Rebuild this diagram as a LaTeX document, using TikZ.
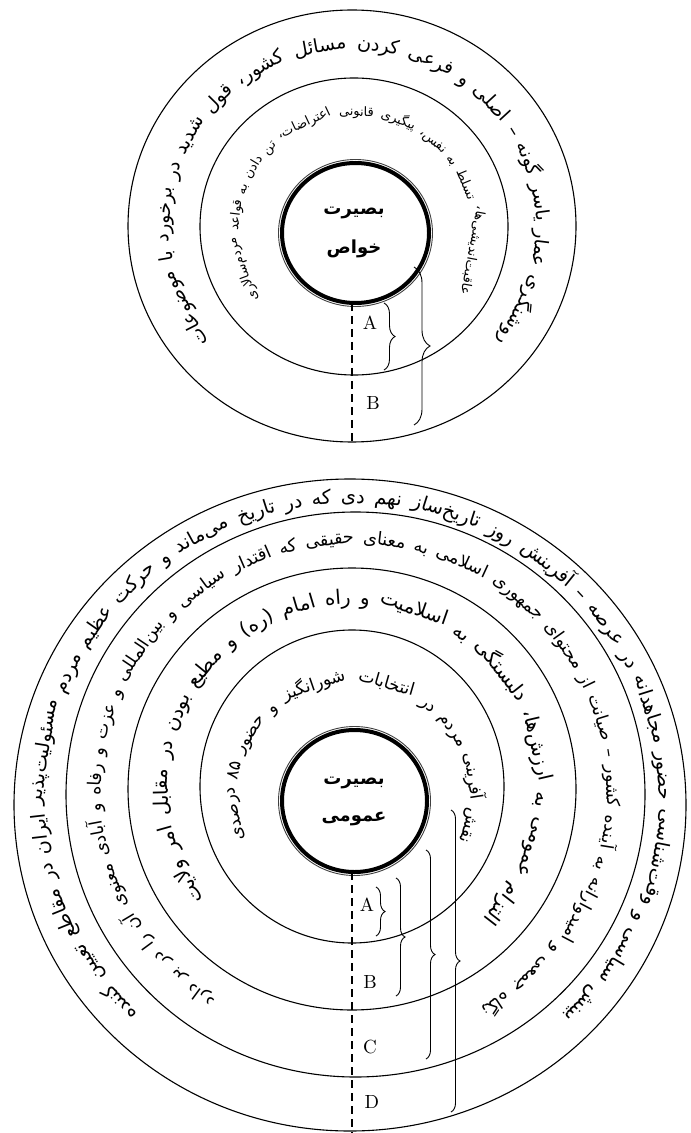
\documentclass[tikz,border=0pt]{standalone}
\usepackage{fontspec}
\usetikzlibrary{decorations.pathreplacing}
\TeXXeTstate=1
\newfontfamily\fa[Script=Arabic]{DejaVu Sans}
\newsavebox\rtbox
\newdimen\rtsw
\newcounter{rtword}
\makeatletter
\newcommand\rt@measure[1]{% font in \rt@font, word #1 -> \rt@w (pt number)
  \pgfinterruptpicture
    \rt@font\global\setbox\rtbox\hbox{\beginR#1\endR}\global\rtsw=1.4\fontdimen2\font
  \endpgfinterruptpicture
  \dimen@=\wd\rtbox \edef\rt@w{\strip@pt\dimen@}%
}
% #1 name prefix, #2 cx, #3 cy, #4 rx, #5 ry, #6 start angle, #7 end angle, #8 font, #9 words
\newcommand\ringtext[9]{%
  \gdef\rt@font{#8}%
  \gdef\rt@tot{0}\gdef\rt@n{0}%
  \foreach \w in {#9}{%
    \rt@measure{\w}%
    \pgfmathsetmacro\rt@a{\rt@tot+\rt@w}\global\let\rt@tot\rt@a
    \pgfmathtruncatemacro\rt@b{\rt@n+1}\global\let\rt@n\rt@b
  }%
  \dimen@=\rtsw \edef\rt@sw{\strip@pt\dimen@}%
  \pgfmathsetmacro\rt@r{0.25*(#4+#5)}%
  \pgfmathsetmacro\rt@L{\rt@r*((#7-(#6))/180*pi)}%
  \pgfmathsetmacro\rt@k{\rt@L/(\rt@tot+(\rt@n-1)*\rt@sw)}%
  \global\let\rt@K\rt@k \global\let\rt@SW\rt@sw
  \gdef\rt@s{0}%
  \foreach \w in {#9}{%
    \rt@measure{\w}%
    \pgfmathsetmacro\rt@th{#6+((\rt@s+0.5*\rt@K*\rt@w)/\rt@r)*57.29578}%
    \pgfmathsetmacro\rt@rot{\rt@th-90}%
    \pgfmathsetmacro\rt@x{#2+#4*cos(\rt@th)}%
    \pgfmathsetmacro\rt@y{#3+#5*sin(\rt@th)}%
    \stepcounter{rtword}%
    \node[inner sep=0pt, anchor=base, rotate=\rt@rot, scale=\rt@K, name=#1\arabic{rtword}] at (\rt@x,\rt@y) {#8\beginR\w\endR};
    \pgfmathsetmacro\rt@c{\rt@s+\rt@K*(\rt@w+\rt@SW)}\global\let\rt@s\rt@c
  }%
}
\makeatother
\tikzset{
  ring/.style={draw=black, line width=0.55pt},
  core/.style={draw=black, line width=2pt},
  coreedge/.style={draw=black!75, line width=0.45pt},
  axisline/.style={draw=black, line width=0.65pt, dash pattern=on 4pt off 2.5pt},
  bracebox/.style={draw=black, line width=0.45pt, decorate, decoration={brace, amplitude=#1}},
  lbl/.style={font=\fontsize{9.5}{10}\selectfont, inner sep=0pt},
  coretext/.style={font=\fa\bfseries\fontsize{9}{13}\selectfont, inner sep=0pt},
}
\begin{document}
\begin{tikzpicture}[x=0.5pt,y=0.5pt]
\useasboundingbox (0,0) rectangle (690,-1133);
\fill[white] (0,0) rectangle (690,-1133);

% ================= TOP DIAGRAM =================
\draw[ring] (352,-226) ellipse [x radius=224, y radius=216];
\draw[ring] (354,-226.5) ellipse [x radius=154, y radius=148.5];
\draw[coreedge] (355.5,-233) ellipse [x radius=77, y radius=73.5];
\draw[core] (355.5,-233) ellipse [x radius=73.5, y radius=70];
\node[coretext] (tcore1) at (354,-213) {\beginR بصیرت\endR};
\node[coretext] (tcore2) at (354,-249) {\beginR خواص\endR};

\ringtext{to}{353}{-226}{183}{176}{-40}{220}{\fa\fontsize{9}{10}\selectfont}%
{روشنگری,عمار,یاسر,گونه,–,اصلی,و,فرعی,کردن,مسائل,کشور،,قول,شدید,در,برخورد,با,موضوعات}

\ringtext{ti}{355}{-229}{116}{113}{-33}{217}{\fa\fontsize{6.3}{7}\selectfont}%
{عاقبت‌اندیشی‌ها،,تسلط,به,نفس،,پیگیری,قانونی,اعتراضات،,تن,دادن,به,قواعد,مردم‌سالاری}

\coordinate (tax1) at (352,-303);
\coordinate (tax2) at (352,-442);
\draw[axisline] (tax1) -- (tax2);

\coordinate (tA1) at (384,-303);
\coordinate (tA2) at (384,-370);
\draw[bracebox=5.5pt] (tA1) -- (tA2);
\coordinate (tB1) at (414,-267);
\coordinate (tB2) at (414,-425);
\draw[bracebox=8pt] (tB1) -- (tB2);
\node[lbl] (tAl) at (370,-323) {A};
\node[lbl] (tBl) at (373,-403) {B};

% ================= BOTTOM DIAGRAM =================
\draw[ring] (350,-805) ellipse [x radius=336, y radius=326];
\draw[ring] (355.5,-794.5) ellipse [x radius=289.5, y radius=282.5];
\draw[ring] (352,-789) ellipse [x radius=224, y radius=221];
\draw[ring] (352,-786.5) ellipse [x radius=152, y radius=156.5];
\draw[coreedge] (354.5,-801) ellipse [x radius=76, y radius=74.5];
\draw[core] (354.5,-801) ellipse [x radius=72.5, y radius=71];
\node[coretext] (bcore1) at (354,-783) {\beginR بصیرت\endR};
\node[coretext] (bcore2) at (354,-819) {\beginR عمومی\endR};

\ringtext{ba}{353}{-794}{116}{110}{-25}{203.5}{\fa\fontsize{8}{9}\selectfont}%
{نقش,آفرینی,مردم,در,انتخابات,شورانگیز,و,حضور,۸۵,درصدی}

\ringtext{bb}{352}{-788}{184}{184}{-45}{217}{\fa\fontsize{8.5}{9}\selectfont}%
{التزام,عمومی,به,ارزش‌ها،,دلبستگی,به,اسلامیت,و,راه,امام,(ره),و,مطیع,بودن,در,مقابل,امر,ولایت}

\ringtext{bc}{354}{-792}{253}{248}{-60}{237}{\fa\fontsize{7.5}{8}\selectfont}%
{نگاه,جمعی,و,امیدوارانه,به,آینده,کشور,–,صیانت,از,محتوای,جمهوری,اسلامی,به,معنای,حقیقی,که,اقتدار,سیاسی,و,بین‌المللی,و,عزت,و,رفاه,و,آبادی,معنوی,آن,را,در,بر,دارد}

\ringtext{bd}{352}{-800}{307}{297}{-46.5}{226}{\fa\fontsize{9}{10}\selectfont}%
{بینش,سیاسی,و,وقت‌شناسی,حضور,مجاهدانه,در,عرصه,–,آفرینش,روز,تاریخ‌ساز,نهم,دی,که,در,تاریخ,می‌ماند,و,حرکت,عظیم,مردم,مسئولیت‌پذیر,ایران,در,مقاطع,تعیین,کننده}

\coordinate (bax1) at (352,-872);
\coordinate (bax2) at (352,-1133);
\draw[axisline] (bax1) -- (bax2);

\coordinate (bA1) at (376,-887);
\coordinate (bA2) at (376,-936);
\draw[bracebox=4.5pt] (bA1) -- (bA2);
\coordinate (bB1) at (396,-878);
\coordinate (bB2) at (396,-996);
\draw[bracebox=4.5pt] (bB1) -- (bB2);
\coordinate (bC1) at (426,-850);
\coordinate (bC2) at (426,-1059);
\draw[bracebox=4.5pt] (bC1) -- (bC2);
\coordinate (bD1) at (451,-810);
\coordinate (bD2) at (451,-1112);
\draw[bracebox=4.5pt] (bD1) -- (bD2);
\node[lbl] (bAl) at (367,-905) {A};
\node[lbl] (bBl) at (370,-982) {B};
\node[lbl] (bCl) at (370,-1047) {C};
\node[lbl] (bDl) at (372,-1102) {D};
\end{tikzpicture}
\end{document}
